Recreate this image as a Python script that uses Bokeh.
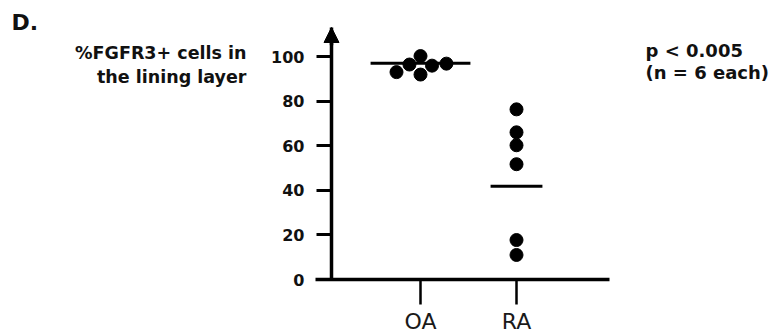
from bokeh.plotting import figure
from bokeh.models import FixedTicker, Label, Arrow, NormalHead, Range1d
from bokeh.embed import file_html
from bokeh.resources import INLINE

# ---- data ----
groups = ["OA", "RA"]
group_pos = [1, 2]
oa_values = [93.0, 96.4, 100.2, 91.9, 95.9, 96.8]
oa_offsets = [-0.25, -0.115, 0.0, 0.0, 0.12, 0.27]
ra_values = [76.3, 66.0, 60.2, 51.7, 17.7, 11.0]
ra_offsets = [0, 0, 0, 0, 0, 0]
line_values = [97.0, 41.8]
line_halfwidths = [0.52, 0.27]
y_ticks = [0, 20, 40, 60, 80, 100]

FONT = "DejaVu Sans"
W, H = 771, 335
OX, OY = 420, 279          # canvas px of (OA, 0)
PX_X = 96.0                # px per group unit
PX_Y = 2.23                # px per % unit

def dx(px):
    return group_pos[0] + (px - OX) / PX_X

def dy(py):
    return (OY - py) / PX_Y

p = figure(width=W, height=H, output_backend="svg", toolbar_location=None,
           x_range=Range1d(dx(0), dx(W)), y_range=Range1d(dy(H), dy(0)),
           min_border_left=0, min_border_right=0, min_border_top=0,
           min_border_bottom=0)
p.outline_line_color = None
p.grid.visible = False
p.background_fill_color = "white"
p.border_fill_color = "white"

yaxis_x = dx(331)
y_top = dy(27)

# y axis
ya = p.yaxis[0]
ya.fixed_location = yaxis_x
ya.bounds = (0, y_top)
ya.ticker = FixedTicker(ticks=y_ticks)
ya.axis_line_width = 3.5
ya.axis_line_color = "black"
ya.major_tick_line_width = 3
ya.major_tick_out = 15
ya.major_tick_in = 0
ya.minor_tick_line_color = None
ya.major_label_text_font = FONT
ya.major_label_text_font_style = "bold"
ya.major_label_text_font_size = "16px"
ya.major_label_text_color = "#111111"
ya.major_label_standoff = 12

# x axis
xa = p.xaxis[0]
xa.fixed_location = 0
xa.bounds = (dx(315), dx(609))
xa.ticker = FixedTicker(ticks=group_pos)
xa.major_label_overrides = {gp: g for gp, g in zip(group_pos, groups)}
xa.axis_line_width = 3.5
xa.axis_line_color = "black"
xa.major_tick_line_width = 2.5
xa.major_tick_out = 25
xa.major_tick_in = 0
xa.minor_tick_line_color = None
xa.major_label_text_font = FONT
xa.major_label_text_font_size = "22px"
xa.major_label_text_color = "#1a1a1a"
xa.major_label_standoff = 4

# arrow head on y axis
p.add_layout(Arrow(end=NormalHead(size=15, fill_color="black", line_color="black", line_width=1),
                   x_start=yaxis_x, x_end=yaxis_x,
                   y_start=y_top - 8, y_end=y_top,
                   line_width=3.5, line_color="black"))

# points
xs = [group_pos[0] + o for o in oa_offsets] + [group_pos[1] + o for o in ra_offsets]
ys = oa_values + ra_values
p.scatter(x=xs, y=ys, size=13, color="black")

# mean lines
p.segment(x0=[gp - hw for gp, hw in zip(group_pos, line_halfwidths)],
          y0=line_values,
          x1=[gp + hw for gp, hw in zip(group_pos, line_halfwidths)],
          y1=line_values, line_width=3, line_color="black")

def lab(text, px, py, size, align="left", bold=True):
    p.add_layout(Label(x=dx(px), y=dy(py), text=text,
                       text_font=FONT, text_font_size=size,
                       text_font_style="bold" if bold else "normal",
                       text_align=align, text_baseline="middle",
                       text_color="#111111"))

lab("D.", 11, 21.5, "22px")
lab("%FGFR3+ cells in", 246, 52, "17.5px", align="right")
lab("the lining layer", 246, 76, "17.5px", align="right")
lab("p < 0.005", 645, 49.5, "18px")
lab("(n = 6 each)", 645, 71.5, "18px")

open("out.html", "w").write(file_html(p, INLINE))
